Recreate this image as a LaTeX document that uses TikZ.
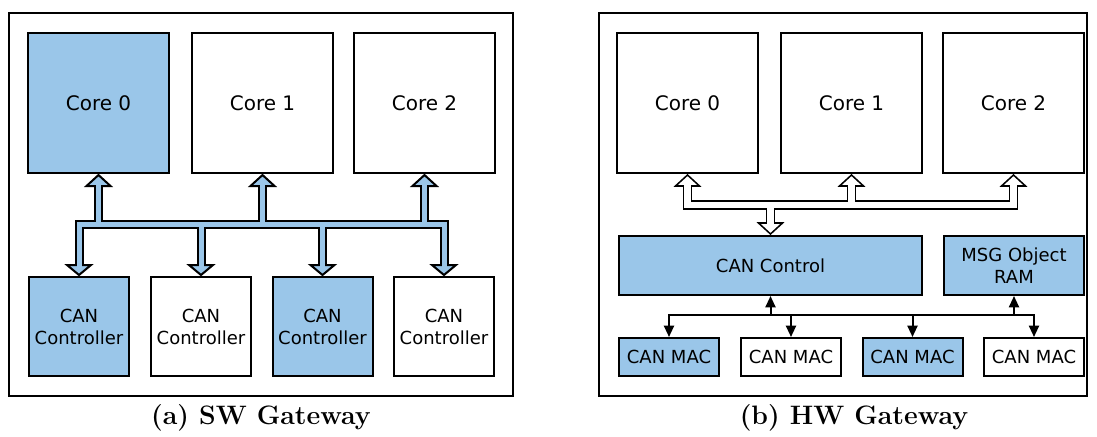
\documentclass[tikz,border=0pt]{standalone}
\usepackage{fontspec}
\newfontfamily\boxfont{DejaVu Sans}
\usetikzlibrary{calc,arrows.meta}
\definecolor{gwblue}{RGB}{154,198,233}
\begin{document}
\begin{tikzpicture}[x=0.75pt,y=-0.75pt,
  box/.style={draw=black,line width=1.5pt,inner sep=0pt,align=center,
    font=\boxfont\fontsize{13.5}{16.5}\selectfont},
  corebox/.style={box,minimum width=141*0.75pt,minimum height=140*0.75pt,
    font=\boxfont\fontsize{15}{18}\selectfont},
  wh/.style 2 args={minimum width=#1*0.75pt,minimum height=#2*0.75pt},
  frame/.style={draw=black,line width=1.5pt},
  swout/.style={draw=black,line width=6.75pt,line join=miter},
  swin/.style={draw=gwblue,line width=3.75pt,line join=miter},
  swhead/.style={fill=gwblue,draw=black,line width=1.5pt,line join=miter},
  hwout/.style={draw=black,line width=7pt,line join=miter},
  hwin/.style={draw=white,line width=4.8pt,line join=miter},
  hwhead/.style={fill=white,draw=black,line width=1.15pt,line join=miter},
  sig/.style={draw=black,line width=1.5pt},
  tip/.tip={Triangle[length=8.5pt,width=7.5pt]},
  caption/.style={font=\bfseries\fontsize{20}{24}\selectfont}
]
\useasboundingbox (0,0) rectangle (1097,436);

%% ---------------- SW gateway ----------------
\draw[frame] (9,13) rectangle (513,396);
\node[corebox,fill=gwblue] (swc0) at (98.5,103) {Core 0};
\node[corebox] (swc1) at (262.5,103) {Core 1};
\node[corebox] (swc2) at (424.5,103) {Core 2};
\node[box,fill=gwblue,wh={100}{99}] (swk1) at (79,326.5) {CAN\\Controller};
\node[box,wh={100}{99}] (swk2) at (201,326.5) {CAN\\Controller};
\node[box,fill=gwblue,wh={100}{99}] (swk3) at (322.5,326.5) {CAN\\Controller};
\node[box,wh={100}{99}] (swk4) at (444,326.5) {CAN\\Controller};
\coordinate (swbus) at (0,224.5);

% bus outline
\draw[swout] ($(swk1.north)+(0,-11)$) -- (swk1.north |- swbus) -- (swk4.north |- swbus) -- ($(swk4.north)+(0,-11)$);
\foreach \n in {swk2,swk3} \draw[swout] ($(\n.north)+(0,-11)$) -- (\n.north |- swbus);
\foreach \n in {swc0,swc1,swc2} \draw[swout] ($(\n.south)+(0,12)$) -- (\n.south |- swbus);
% arrow heads
\foreach \n in {swk1,swk2,swk3,swk4}
  \filldraw[swhead] ($(\n.north)+(-12,-11)$) -- ($(\n.north)+(0,-1)$) -- ($(\n.north)+(12,-11)$) -- cycle;
\foreach \n in {swc0,swc1,swc2}
  \filldraw[swhead] ($(\n.south)+(-12,12)$) -- ($(\n.south)+(0,1)$) -- ($(\n.south)+(12,12)$) -- cycle;
% bus interior
\draw[swin] ($(swk1.north)+(0,-9.3)$) -- (swk1.north |- swbus) -- (swk4.north |- swbus) -- ($(swk4.north)+(0,-9.3)$);
\foreach \n in {swk2,swk3} \draw[swin] ($(\n.north)+(0,-9.3)$) -- (\n.north |- swbus);
\foreach \n in {swc0,swc1,swc2} \draw[swin] ($(\n.south)+(0,10.3)$) -- (\n.south |- swbus);

\node[caption,anchor=base] (capa) at (261,424) {(a) SW Gateway};

%% ---------------- HW gateway ----------------
\draw[frame] (599,13) rectangle (1087,396);
\node[corebox] (hwc0) at (687.5,103) {Core 0};
\node[corebox] (hwc1) at (851.5,103) {Core 1};
\node[corebox] (hwc2) at (1013.5,103) {Core 2};
\node[box,fill=gwblue,wh={303}{59}] (ctl) at (770.5,265.5) {CAN Control};
\node[box,fill=gwblue,wh={140}{59}] (ram) at (1014,265.5) {MSG Object\\RAM};
\node[box,fill=gwblue,wh={100}{38}] (mac1) at (669,357) {CAN MAC};
\node[box,wh={100}{38}] (mac2) at (791,357) {CAN MAC};
\node[box,fill=gwblue,wh={100}{38}] (mac3) at (912.5,357) {CAN MAC};
\node[box,wh={100}{38}] (mac4) at (1034,357) {CAN MAC};
\coordinate (hwbus) at (0,205);
\coordinate (macbus) at (0,315);

% hollow bus outline
\draw[hwout] ($(hwc0.south)+(0,12)$) -- (hwc0.south |- hwbus) -- (hwc2.south |- hwbus) -- ($(hwc2.south)+(0,12)$);
\draw[hwout] ($(hwc1.south)+(0,12)$) -- (hwc1.south |- hwbus);
\draw[hwout] (ctl.north |- hwbus) -- ($(ctl.north)+(0,-12)$);
% arrow heads
\foreach \n in {hwc0,hwc1,hwc2}
  \filldraw[hwhead] ($(\n.south)+(-12,12)$) -- ($(\n.south)+(0,1)$) -- ($(\n.south)+(12,12)$) -- cycle;
\filldraw[hwhead] ($(ctl.north)+(-12,-12)$) -- ($(ctl.north)+(0,-1)$) -- ($(ctl.north)+(12,-12)$) -- cycle;
% hollow bus interior
\draw[hwin] ($(hwc0.south)+(0,10.5)$) -- (hwc0.south |- hwbus) -- (hwc2.south |- hwbus) -- ($(hwc2.south)+(0,10.5)$);
\draw[hwin] ($(hwc1.south)+(0,10.5)$) -- (hwc1.south |- hwbus);
\draw[hwin] (ctl.north |- hwbus) -- ($(ctl.north)+(0,-10.5)$);

% MAC bus
\draw[sig,tip-tip] (mac1.north) -- (mac1.north |- macbus) -- (mac4.north |- macbus) -- (mac4.north);
\foreach \n in {mac2,mac3} \draw[sig,-tip] (\n.north |- macbus) -- (\n.north);
\draw[sig,-tip] (ctl.south |- macbus) -- (ctl.south);
\draw[sig,-tip] (ram.south |- macbus) -- (ram.south);

\node[caption,anchor=base] (capb) at (854,424) {(b) HW Gateway};
\end{tikzpicture}
\end{document}
